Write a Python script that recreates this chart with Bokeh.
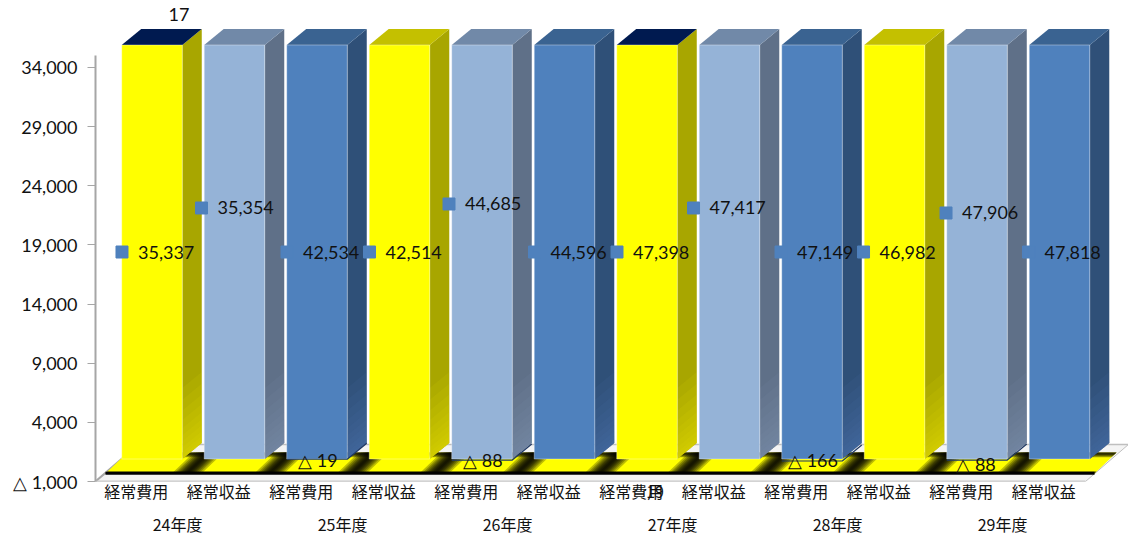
from bokeh.plotting import figure
from bokeh.models import LinearAxis, FixedTicker, ColumnDataSource, Label
from bokeh.embed import file_html
from bokeh.resources import INLINE
from bokeh.core.properties import value

# ---- data ----
years = ["24年度", "25年度", "26年度", "27年度", "28年度", "29年度"]
items = ["経常費用", "経常収益"]
values = [35337, 35354, 42534, 42514, 44685, 44596,
          47398, 47417, 47149, 46982, 47906, 47818]
diffs = [17, -19, -88, 19, -166, -88]
y_ticks = [-1000, 4000, 9000, 14000, 19000, 24000, 29000, 34000]

# ---- style / layout ----
face = ["#FFFF00", "#95B3D7", "#4F81BD"]
side = ["#A8A600", "#5F7088", "#2F5078"]
side_light = ["#E8E400", "#8496B0", "#4A78AE"]
top = ["#C4C000", "#7189A8", "#3A6391"]
top_navy = "#001A50"
axis_max = 35000
lift = 900          # front plane of the bars above the axis plane
half = 0.367
dep_x, dep_y = 0.236, 1353
label_dx = -0.19
px_x = 82.5               # pixels per category
px_y = 414 / 35000        # pixels per value unit
marker_dx = [-30, -33, -30, -30, -33, -30, -30, -36, -31, -31, -31, -31]
label_dy = [0, -44, 0, 0, -48, 0, 0, -44, 0, 0, -39, 0]
diff_dx = [27, 1, 1, 8, 1, -1]
diff_dy = [445, -1, -1, -31, -1, -5]

n = len(values)
xs = list(range(n))
FONT = "Lato"
JP = "Noto Sans CJK JP"

p = figure(width=1128, height=538, output_backend="svg", toolbar_location=None,
           x_range=(-0.6848, 11.836), y_range=(-1000, 39660),
           frame_width=1033, frame_height=481,
           min_border_left=95, min_border_right=0, min_border_top=0, min_border_bottom=57)
p.outline_line_color = None
p.grid.visible = False
p.background_fill_color = "white"

# y axis
p.yaxis.ticker = FixedTicker(ticks=y_ticks)
p.yaxis.major_label_overrides = {t: (f"△ {abs(t):,}" if t < 0 else f"{t:,}") for t in y_ticks}
p.yaxis.bounds = (-1000, axis_max)
p.yaxis.axis_line_color = "#A6A6A6"
p.yaxis.axis_line_width = 2
p.yaxis.major_tick_line_color = "#A6A6A6"
p.yaxis.major_tick_out = 8
p.yaxis.major_tick_in = 0
p.yaxis.minor_tick_line_color = None
p.yaxis.major_label_text_font = FONT
p.yaxis.major_label_text_font_size = "18px"
p.yaxis.major_label_text_color = "#111111"
p.yaxis.major_label_standoff = 10

# category axes; a difference label that sits in the label row below the frame
# (glyphs and annotations are clipped there) is drawn by the same axis
lab_ticks = [i + label_dx for i in xs]
below_row = {2 * k + diff_dx[k] / px_x: str(d)
             for k, d in enumerate(diffs) if diff_dy[k] < -20}
ax = p.xaxis[0]
ax.ticker = FixedTicker(ticks=lab_ticks + list(below_row))
ax.major_label_overrides = {**{t: items[i % 2] for i, t in enumerate(lab_ticks)}, **below_row}
yr_ticks = [2 * i + 0.5 + label_dx for i in range(len(years))]
ax2 = LinearAxis(ticker=FixedTicker(ticks=yr_ticks),
                 major_label_overrides={t: y for t, y in zip(yr_ticks, years)})
p.add_layout(ax2, "below")
for a in (ax, ax2):
    a.axis_line_color = None
    a.major_tick_line_color = None
    a.minor_tick_line_color = None
    a.major_tick_in = 0
    a.major_tick_out = 0
    a.major_label_text_font = JP
    a.major_label_text_font_size = "16px"
    a.major_label_text_color = "#111111"
ax.major_label_standoff = -3
ax2.major_label_standoff = 6

# floor
fl, fr = -0.685, 11.315
p.patch([fl, fr, fr + 0.52, fl + 0.52], [-1000, -1000, 2127, 2127],
        fill_color="#F4F4F4", line_color="#BFBFBF", line_width=1)
p.line([fl, fl + 0.52], [-1000, 2127], line_color="#A6A6A6", line_width=2)
p.line([fl + 0.52, 11.836], [2127, 2127], line_color="#BFBFBF", line_width=1.5)
p.line([fl, fr], [-1000, -1000], line_color="#C8C8C8", line_width=2)

# yellow band, dark between the bars and along both long edges
bl, br = -0.564, 11.424
by0, by1 = -324, 1450
sh = 0.267
slope = sh / (by1 - by0)
p.patch([bl, br, br + sh, bl + sh], [by0, by0, by1, by1], fill_color="#FFFF00", line_color=None)
for w in (0.18, 0.15, 0.125, 0.10, 0.08, 0.06, 0.04, 0.02):
    wx, wy = [], []
    for i in range(n - 1):
        c0 = i + 0.5 - 0.08
        wx.append([c0 - w, c0 + w, c0 + w + sh, c0 - w + sh])
        wy.append([by0, by0, by1, by1])
    p.patches(wx, wy, fill_color="#000000", fill_alpha=0.26, line_color=None)
for h in (400, 320, 240, 160):
    p.patch([bl + sh * (1 - h / (by1 - by0)), br + sh * (1 - h / (by1 - by0)), br + sh, bl + sh],
            [by1 - h, by1 - h, by1, by1], fill_color="#000000", fill_alpha=0.35, line_color=None)
for h in (180, 140, 100):
    p.patch([bl, br, br + slope * h, bl + slope * h],
            [by0, by0, by0 + h, by0 + h], fill_color="#000000", fill_alpha=0.35, line_color=None)
p.line([bl, br], [by0 + 30, by0 + 30], line_color="#000000", line_width=3)

# bars: side, top, front
cols = [i % 3 for i in xs]
tops = [min(v, axis_max) + lift for v in values]
sx = [[i + half, i + half + dep_x, i + half + dep_x, i + half] for i in xs]
sy = [[lift, lift + dep_y, t + dep_y, t] for t in tops]
p.patches(sx, sy, fill_color=[side[c] for c in cols], line_color=None)
# sides brighten toward the floor
for h in (6000, 5000, 4100, 3300, 2600, 2000, 1500, 1000, 600, 300):
    gy = [[lift, lift + dep_y, lift + dep_y + h, lift + h] for _ in xs]
    p.patches(sx, gy, fill_color=[side_light[c] for c in cols], fill_alpha=0.1, line_color=None)
tx = [[i - half, i + half, i + half + dep_x, i - half + dep_x] for i in xs]
ty = [[t, t, t + dep_y, t + dep_y] for t in tops]
tcol = [top_navy if i % 6 == 0 else top[c] for i, c in zip(xs, cols)]
p.patches(tx, ty, fill_color=tcol, line_color=None)
p.vbar(x=xs, width=2 * half, bottom=lift, top=tops, fill_color=[face[c] for c in cols],
       line_color="#FFFFFF", line_alpha=0.35, line_width=1)

# small negative difference bars under the columns
for k, d in enumerate(diffs):
    if d < 0:
        i = 2 * k
        p.line([i - half, i + half, i + half + dep_x],
               [lift + d, lift + d, lift + d + dep_y],
               line_color="#1F3864", line_width=1.2)

# markers and value labels
mid = lift + axis_max / 2
src = ColumnDataSource(dict(
    x=xs, y=[mid] * n,
    mx=[i + m / px_x for i, m in zip(xs, marker_dx)],
    my=[mid - d / px_y for d in label_dy],
    tx=[i + (m + 16) / px_x for i, m in zip(xs, marker_dx)],
    txt=[f"{v:,}" for v in values]))
p.scatter("mx", "my", source=src, marker="square", size=12, color="#4F81BD")
p.text(x="tx", y="my", text="txt", source=src,
       text_font=value(FONT), text_font_size="18px", text_color="#111111",
       text_align="left", text_baseline="middle")

# difference labels inside the frame
for k, d in enumerate(diffs):
    if diff_dy[k] >= -20:
        p.add_layout(Label(x=2 * k, y=lift, x_offset=diff_dx[k], y_offset=diff_dy[k],
                           text=f"△ {abs(d)}" if d < 0 else str(d),
                           text_font=FONT, text_font_size="18px", text_color="#111111",
                           text_align="center", text_baseline="middle"))

open("out.html", "w").write(file_html(p, INLINE))
